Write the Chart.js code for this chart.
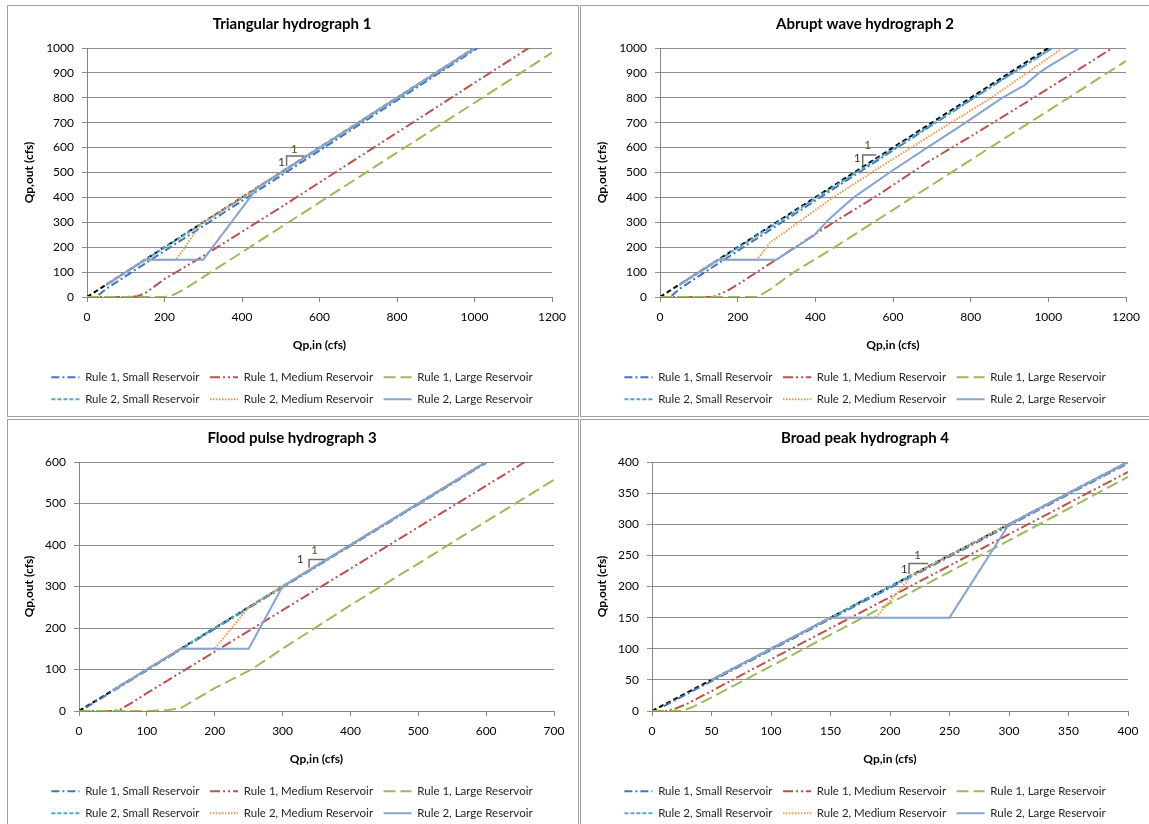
<!DOCTYPE html>
<html>
<head>
<meta charset="utf-8">
<title>Reservoir peak outflow vs peak inflow</title>
<script src="https://cdn.jsdelivr.net/npm/chart.js@4.4.0/dist/chart.umd.min.js"></script>
<style>
  html, body { margin: 0; padding: 0; background: #fff; overflow: hidden; }
  body { width: 1149px; height: 824px; position: relative; }
  .panel { position: absolute; border: 1px solid #a0a0a0; background: #fff; }
  .panel canvas { position: absolute; left: 0; top: 0; }
</style>
</head>
<body>
<div class="panel" style="left:7px;top:5px;width:570px;height:410px"><canvas id="c1" width="568" height="409"></canvas></div>
<div class="panel" style="left:580px;top:5px;width:575px;height:410px"><canvas id="c2" width="568" height="409"></canvas></div>
<div class="panel" style="left:7px;top:419px;width:570px;height:420px"><canvas id="c3" width="568" height="409"></canvas></div>
<div class="panel" style="left:580px;top:419px;width:575px;height:420px"><canvas id="c4" width="568" height="409"></canvas></div>
<script>
// series names, same in every panel
const seriesNames = [
  'Rule 1, Small Reservoir', 'Rule 1, Medium Reservoir', 'Rule 1, Large Reservoir',
  'Rule 2, Small Reservoir', 'Rule 2, Medium Reservoir', 'Rule 2, Large Reservoir'
]

// Triangular hydrograph 1  ([Qp,in, Qp,out] pairs, cfs)
const tri1to1 = [[0, 0], [1000, 1000]]
const triR1Small = [[30, 8], [50, 33], [100, 84], [200, 185], [300, 285], [400, 386], [500, 487], [600, 588], [700, 689], [800, 790], [900, 891], [1008, 1000]]
const triR1Medium = [[0, 0], [100, 0], [130, 3], [150, 15], [200, 72], [250, 118], [300, 165], [400, 262], [500, 360], [600, 460], [700, 560], [800, 660], [900, 760], [1000, 860], [1140, 1000]]
const triR1Large = [[0, 0], [200, 0], [225, 10], [250, 30], [300, 80], [400, 180], [500, 280], [600, 380], [700, 480], [800, 580], [900, 680], [1000, 780], [1100, 880], [1200, 982]]
const triR2Small = [[50, 48], [300, 298], [1000, 996]]
const triR2Medium = [[50, 50], [150, 150], [230, 150], [295, 295], [1000, 1000]]
const triR2Large = [[50, 50], [150, 150], [300, 150], [440, 440], [1000, 1000]]

// Abrupt wave hydrograph 2
const abr1to1 = [[0, 0], [1000, 1000]]
const abrR1Small = [[30, 5], [50, 32], [100, 84], [200, 185], [300, 286], [400, 387], [500, 488], [600, 589], [700, 690], [800, 791], [900, 892], [1010, 1000]]
const abrR1Medium = [[0, 0], [137, 0], [172, 24], [200, 50], [300, 151], [446, 299], [558, 406], [687, 540], [800, 645], [962, 800], [1165, 1000]]
const abrR1Large = [[0, 0], [250, 0], [285, 32], [340, 95], [450, 200], [650, 400], [850, 600], [1052, 800], [1200, 948]]
const abrR2Small = [[50, 48], [300, 296], [600, 594], [1010, 1000]]
const abrR2Medium = [[50, 50], [150, 150], [250, 150], [283, 218], [343, 285], [438, 392], [558, 513], [721, 673], [853, 800], [1037, 1000]]
const abrR2Large = [[50, 50], [150, 150], [300, 150], [397, 248], [435, 312], [499, 400], [596, 505], [688, 600], [787, 700], [881, 800], [938, 850], [976, 900], [1000, 925], [1080, 1000]]

// Flood pulse hydrograph 3
const fld1to1 = [[0, 0], [600, 600]]
const fldR1Small = [[10, 8], [600, 598]]
const fldR1Medium = [[0, 0], [50, 0], [60, 3], [80, 22], [100, 43], [150, 93], [200, 143], [300, 243], [400, 343], [500, 443], [600, 543], [657, 600]]
const fldR1Large = [[0, 0], [100, 0], [130, 2], [150, 7], [200, 55], [254, 100], [300, 150], [400, 255], [500, 355], [600, 457], [700, 557]]
const fldR2Small = [[50, 50], [600, 600]]
const fldR2Medium = [[50, 50], [150, 150], [200, 150], [250, 250], [600, 600]]
const fldR2Large = [[50, 50], [150, 150], [250, 150], [300, 300], [600, 600]]

// Broad peak hydrograph 4
const brd1to1 = [[0, 0], [400, 400]]
const brdR1Small = [[10, 8], [400, 398]]
const brdR1Medium = [[0, 0], [12, 0], [20, 4], [30, 12], [50, 32], [100, 83], [200, 183], [300, 284], [400, 384]]
const brdR1Large = [[0, 0], [25, 0], [35, 7], [50, 22], [100, 72], [200, 173], [300, 274], [400, 376]]
const brdR2Small = [[50, 50], [400, 400]]
const brdR2Medium = [[50, 50], [150, 150], [188, 150], [219, 219], [400, 400]]
const brdR2Large = [[50, 50], [150, 150], [250, 150], [300, 300], [400, 400]]

const seriesColors = ['#4472c4', '#c0504d', '#9bbb59', '#4bacc6', '#f79646', '#86a4d0']
const seriesDash = [[8, 3, 2, 3], [10, 3, 2, 3, 2, 3], [12, 5], [4, 2], [1.5, 1.5], []]

const panels = [
  { id: 'c1', title: 'Triangular hydrograph 1', xMax: 1200, xStep: 200, yMax: 1000, yStep: 100, yWidth: 79, padRight: 24,
    series: [triR1Small, triR1Medium, triR1Large, triR2Small, triR2Medium, triR2Large], oneToOne: tri1to1,
    slope: { x: 515, y: 526, run: 46, rise: 40, topLabel: [535, 592], leftLabel: [502, 542] } },
  { id: 'c2', title: 'Abrupt wave hydrograph 2', xMax: 1200, xStep: 200, yMax: 1000, yStep: 100, yWidth: 79, padRight: 23,
    series: [abrR1Small, abrR1Medium, abrR1Large, abrR2Small, abrR2Medium, abrR2Large], oneToOne: abr1to1,
    slope: { x: 522, y: 526, run: 35, rise: 44, topLabel: [535, 609], leftLabel: [508, 556] } },
  { id: 'c3', title: 'Flood pulse hydrograph 3', xMax: 700, xStep: 100, yMax: 600, yStep: 100, yWidth: 71, padRight: 22,
    series: [fldR1Small, fldR1Medium, fldR1Large, fldR2Small, fldR2Medium, fldR2Large], oneToOne: fld1to1,
    slope: { x: 339, y: 345, run: 23, rise: 20, topLabel: [347, 388], leftLabel: [326, 366] } },
  { id: 'c4', title: 'Broad peak hydrograph 4', xMax: 400, xStep: 50, yMax: 400, yStep: 50, yWidth: 71, padRight: 21,
    series: [brdR1Small, brdR1Medium, brdR1Large, brdR2Small, brdR2Medium, brdR2Large], oneToOne: brd1to1,
    slope: { x: 216, y: 220, run: 16, rise: 17, topLabel: [223, 250], leftLabel: [212, 228] } }
]

Chart.defaults.font.family = 'Lato, "Open Sans", sans-serif'
Chart.defaults.color = '#000'

const toXY = pts => pts.map(([x, y]) => ({ x, y }))

// the little "1 : 1" slope triangle labels
const slopeLabels = {
  id: 'slopeLabels',
  afterDatasetsDraw (chart, args, opts) {
    const { ctx, scales: { x, y } } = chart
    ctx.save()
    ctx.font = '12px Lato'
    ctx.textAlign = 'center'
    ctx.textBaseline = 'middle'
    ctx.fillStyle = '#4b5a2e'
    ctx.fillText('1', x.getPixelForValue(opts.top[0]), y.getPixelForValue(opts.top[1]))
    ctx.fillStyle = '#333'
    ctx.fillText('1', x.getPixelForValue(opts.left[0]), y.getPixelForValue(opts.left[1]))
    ctx.restore()
  }
}

// legend samples keep the dataset's dash pattern
const legendLabels = chart =>
  Chart.defaults.plugins.legend.labels.generateLabels(chart).map(item => {
    const ds = chart.data.datasets[item.datasetIndex]
    item.lineDash = ds.borderDash || []
    item.strokeStyle = ds.borderColor
    item.lineWidth = 2
    return item
  })

panels.forEach(p => {
  const datasets = p.series.map((pts, i) => ({
    label: seriesNames[i],
    data: toXY(pts),
    borderColor: seriesColors[i],
    backgroundColor: seriesColors[i],
    borderDash: seriesDash[i],
    borderWidth: 2,
    pointRadius: 0,
    tension: 0,
    order: 10 - i
  }))
  // 1:1 reference line, drawn underneath
  datasets.push({
    label: '1:1',
    data: toXY(p.oneToOne),
    borderColor: '#000',
    borderDash: [5, 3],
    borderWidth: 2,
    pointRadius: 0,
    order: 20
  })
  const s = p.slope
  datasets.push({
    label: 'slope',
    data: [{ x: s.x, y: s.y }, { x: s.x, y: s.y + s.rise }, { x: s.x + s.run, y: s.y + s.rise }],
    borderColor: '#6e6e6e',
    borderWidth: 1.5,
    pointRadius: 0,
    order: 0
  })

  new Chart(document.getElementById(p.id), {
    type: 'line',
    data: { datasets },
    plugins: [slopeLabels],
    options: {
      responsive: false,
      animation: false,
      layout: { padding: 0 },
      plugins: {
        title: { display: true, text: p.title, font: { size: 15, weight: 'bold' }, padding: { top: 9, bottom: 15 } },
        legend: {
          position: 'bottom',
          labels: {
            usePointStyle: true,
            pointStyle: 'line',
            pointStyleWidth: 28,
            boxHeight: 11.5,
            padding: 10.5,
            color: '#262626',
            font: { size: 11.5 },
            generateLabels: legendLabels,
            filter: item => item.datasetIndex < 6,
            sort: (a, b) => a.datasetIndex - b.datasetIndex
          }
        },
        tooltip: { enabled: false },
        slopeLabels: { top: s.topLabel, left: s.leftLabel }
      },
      scales: {
        x: {
          type: 'linear', min: 0, max: p.xMax,
          ticks: { stepSize: p.xStep, padding: 8, font: { size: 12 }, callback: v => String(v) },
          grid: { drawOnChartArea: false, tickLength: 5, color: '#868686' },
          border: { color: '#868686' },
          title: { display: true, text: 'Qp,in (cfs)', font: { size: 12, weight: 'bold' }, padding: { top: 4, bottom: 9 } },
          afterFit: sc => { sc.height = 64 }
        },
        y: {
          type: 'linear', min: 0, max: p.yMax,
          ticks: { stepSize: p.yStep, padding: 8, font: { size: 12 }, callback: v => String(v) },
          grid: { tickLength: 5, color: '#8c8c8c' },
          border: { color: '#868686' },
          title: { display: true, text: 'Qp,out (cfs)', font: { size: 12, weight: 'bold' }, padding: { top: 14, bottom: 0 } },
          afterFit: sc => { sc.width = p.yWidth }
        },
        // empty right-hand strip, so the title and legend centre on the whole panel
        yRight: {
          type: 'linear', position: 'right', min: 0, max: p.yMax,
          grid: { display: false },
          border: { display: false },
          ticks: { display: false },
          afterFit: sc => { sc.width = p.padRight }
        }
      }
    }
  })
})
</script>
</body>
</html>
